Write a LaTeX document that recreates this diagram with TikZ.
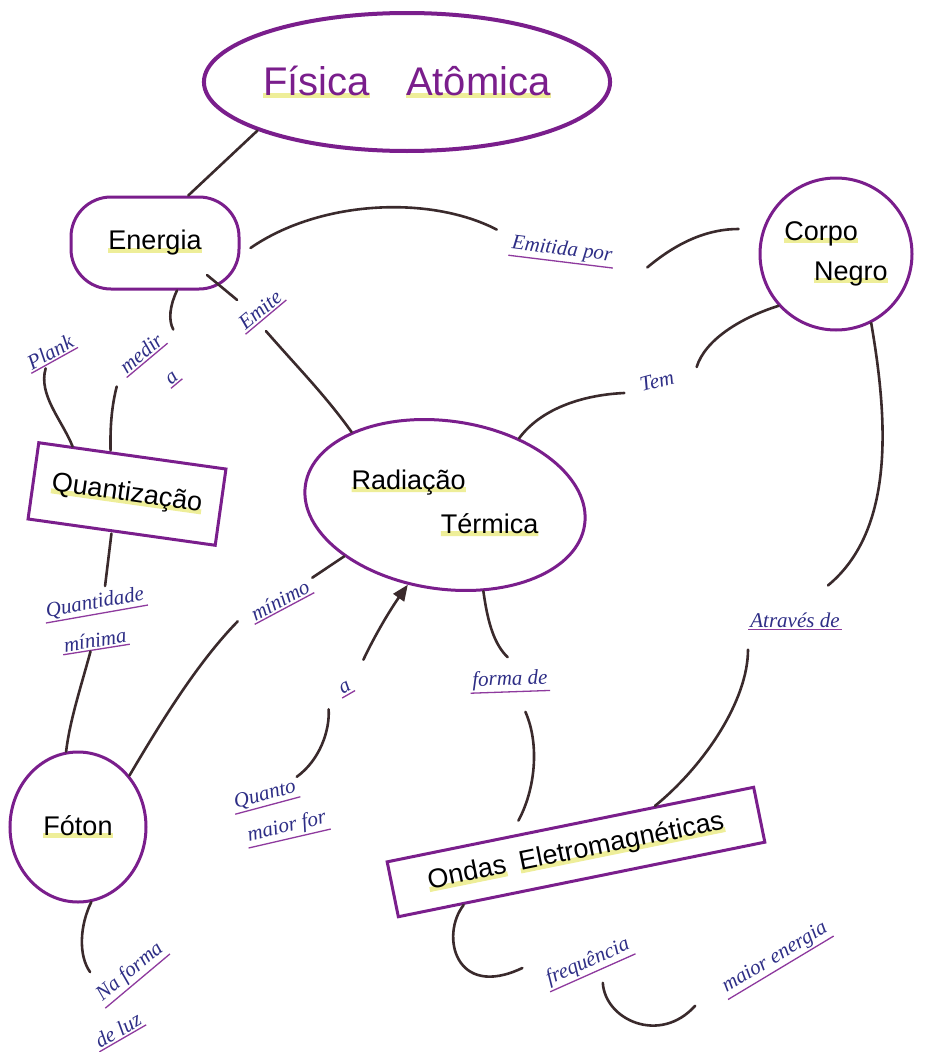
\documentclass[tikz,border=0pt]{standalone}
\usepackage{fontspec}
\usepackage{graphicx}
\setmainfont{Liberation Sans}
\newfontfamily\lblfont{Liberation Serif}
\usetikzlibrary{shapes.geometric,arrows.meta,calc}
\definecolor{purp}{HTML}{7A1E8C}
\definecolor{ink}{HTML}{3A2A2C}
\definecolor{pen}{HTML}{2E2E86}
\definecolor{uline}{HTML}{8E3A9E}
\definecolor{hly}{HTML}{EEEE99}
\newcommand\hlw[1]{\setbox0=\hbox{#1}\rlap{\textcolor{hly}{\rule[-3pt]{\wd0}{5pt}}}\box0\relax}
\tikzset{
  concept/.style={draw=purp, line width=3pt, fill=white, text=black,
    font=\fontsize{27}{30}\selectfont, align=center, inner sep=0pt},
  lbl/.style={text=pen, font=\lblfont\itshape\fontsize{21}{24}\selectfont, inner sep=2pt,
    append after command={(\tikzlastnode.south west) edge[draw=uline, line width=1.3pt] (\tikzlastnode.south east)}},
  plainlbl/.style={text=pen, font=\lblfont\itshape\fontsize{21}{24}\selectfont, inner sep=2pt},
  conn/.style={draw=ink, line width=2.6pt, line cap=round},
}
\begin{document}
\begin{tikzpicture}[x=1pt,y=-1pt]
\fill[white] (0,0) rectangle (935,1052);
\useasboundingbox (0,0) rectangle (935,1052);

% concept nodes
\node[concept, ellipse, line width=4pt, minimum width=345pt, minimum height=138pt,
  text=purp, font=\fontsize{40}{44}\selectfont] (fisica) at (407,82) {\hlw{Física}\hspace{0.9em}\hlw{Atômica}};
\node[concept, rounded corners=40pt, minimum width=168pt, minimum height=92pt] (energia) at (155,243) {\hlw{Energia}};
\node[concept, circle, minimum size=152pt] (corpo) at (836,254)
  {\begin{tabular}{@{}l@{}}\hlw{Corpo}\\[10pt]\hspace*{1.1em}\hlw{Negro}\end{tabular}};
\node[concept, ellipse, minimum width=282pt, minimum height=168pt, rotate=-8] (radiacao) at (445,505)
  {\rotatebox{8}{\begin{tabular}{@{}l@{}}\hlw{Radiação}\\[14pt]\hspace*{3.3em}\hlw{Térmica}\end{tabular}}};
\node[concept, rectangle, minimum width=189pt, minimum height=77pt, rotate=-8] (quantizacao) at (127,494) {\hlw{Quantização}};
\node[concept, ellipse, minimum width=136pt, minimum height=150pt] (foton) at (78,827) {\hlw{Fóton}};
\node[concept, rectangle, minimum width=374pt, minimum height=56pt, rotate=11.5] (ondas) at (576,852) {\hlw{Ondas}\hspace{0.5em}\hlw{Eletromagnéticas}};

% linking labels
\node[lbl, rotate=-7] (emitida) at (562,250) {Emitida por};
\node[lbl, rotate=40] (emite) at (260,310) {Emite};
\node[lbl, rotate=40] (medir) at (141,353) {medir};
\node[lbl, rotate=40] (a1) at (172,378) {a};
\node[lbl, rotate=29] (plank) at (50,352) {Plank};
\node[plainlbl, rotate=15] (tem) at (657,381) {Tem};
\node[lbl, rotate=10] (quantidade) at (95,603) {Quantidade};
\node[lbl, rotate=9] (minima) at (95,640) {mínima};
\node[lbl, rotate=28] (minimo) at (280,600) {mínimo};
\node[lbl, rotate=30] (a2) at (345,688) {a};
\node[lbl, rotate=15] (quanto) at (265,795) {Quanto};
\node[lbl, rotate=13] (maiorfor) at (287,827) {maior for};
\node[lbl, rotate=2] (forma) at (510,680) {forma de};
\node[lbl] (atraves) at (795,620) {Através de};
\node[lbl, rotate=40] (naforma) at (130,972) {Na forma};
\node[lbl, rotate=30] (deluz) at (118,1030) {de luz};
\node[lbl, rotate=24] (freq) at (588,962) {frequência};
\node[lbl, rotate=31] (maiorenergia) at (775,958) {maior energia};

% connectors
\draw[conn] (fisica.198) -- (energia.55);
\draw[conn] ([shift={(10,5)}]energia.east) .. controls (320,200) and (430,195) .. ([shift={(-13,-14)}]emitida.west);
\draw[conn] ([shift={(33,11)}]emitida.east) .. controls (680,240) and (710,229) .. ([shift={(-20,-25)}]corpo.west);
\draw[conn] ([shift={(52,32)}]energia.center) -- ([shift={(-17,-3)}]emite.north);
\draw[conn] ([shift={(0,14)}]emite.south) .. controls (300,370) and (325,395) .. (radiacao.150);
\draw[conn] ([shift={(22,0)}]energia.south) .. controls (170,305) and (168,320) .. ([shift={(18,1)}]medir.north east);
\draw[conn] ([shift={(-10,9)}]medir.south west) .. controls (112,405) and (110,425) .. ([shift={(-22,-4)}]quantizacao.north);
\draw[conn] ([shift={(-9,8)}]plank.south) .. controls (38,395) and (62,420) .. ([shift={(-60,-8)}]quantizacao.north);
\draw[conn] (corpo.222) .. controls (740,318) and (705,340) .. ([shift={(21,-9)}]tem.east);
\draw[conn] ([shift={(-14,7)}]tem.west) .. controls (580,395) and (540,410) .. (radiacao.50);
\draw[conn] (corpo.-63) .. controls (888,420) and (895,530) .. ([shift={(33,-25)}]atraves.north);
\draw[conn] ([shift={(-47,20)}]atraves.south) .. controls (748,700) and (705,765) .. ($(ondas.north west)!0.73!(ondas.north east)$);
\draw[conn] ([shift={(-10,0)}]quantizacao.south) -- ([shift={(12,-6)}]quantidade.north);
\draw[conn] ([shift={(-6,2)}]minima.south) .. controls (80,690) and (70,720) .. (foton.99);
\draw[conn] (foton.45) .. controls (165,715) and (200,660) .. ([shift={(-17,-3)}]minimo.south west);
\draw[conn] ([shift={(7,2)}]minimo.north east) -- (radiacao.215);
\draw[conn] ([shift={(2,1)}]quanto.north east) .. controls (320,760) and (330,730) .. ([shift={(-20,15)}]a2.south);
\draw[conn, -{Triangle[length=16pt,width=13pt]}] ([shift={(22,-22)}]a2.north) .. controls (375,635) and (390,610) .. (radiacao.-107);
\draw[conn] (radiacao.-58) .. controls (488,625) and (495,645) .. ([shift={(-2,-11)}]forma.north);
\draw[conn] ([shift={(15,20)}]forma.south) .. controls (540,745) and (535,790) .. ($(ondas.north west)!0.36!(ondas.north east)+(0,-13)$);
\draw[conn] (foton.-80) .. controls (80,925) and (78,955) .. ([shift={(0,-18)}]naforma.north west);
\draw[conn] ($(ondas.south west)!0.18!(ondas.south east)$) .. controls (440,935) and (455,1000) .. ([shift={(-23,-13)}]freq.west);
\draw[conn] ([shift={(10,10)}]freq.south) .. controls (605,1020) and (660,1045) .. ([shift={(-27,16)}]maiorenergia.west);
\end{tikzpicture}
\end{document}
